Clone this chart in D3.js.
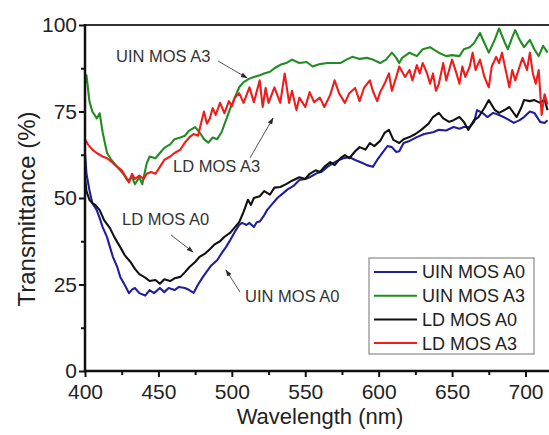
<!DOCTYPE html>
<html>
<head>
<meta charset="utf-8">
<script src="https://cdn.jsdelivr.net/npm/d3@7"></script>
<style>
  html, body { margin: 0; padding: 0; background: #fff; }
  svg { display: block; }
  text { font-family: "Liberation Sans", Arial, Helvetica, sans-serif; }
</style>
</head>
<body>
<svg id="chart" width="549" height="435"></svg>
<script>
// ---------------- DATA ----------------
const xTicks = [400, 450, 500, 550, 600, 650, 700];
const xMinorTicks = [425, 475, 525, 575, 625, 675, 725];
const yTicks = [0, 25, 50, 75, 100];
const yMinorTicks = [12.5, 37.5, 62.5, 87.5];

const seriesNames = ["UIN MOS A0", "UIN MOS A3", "LD MOS A0", "LD MOS A3"];
const seriesColors = ["#1f1f9e", "#218c21", "#111111", "#f01c1c"];

// [wavelength (nm), transmittance (%)]
const uinA0 = [[400,63],[401,57],[403,52.3],[405,48.5],[408,46.5],[410,44.2],[412,41.6],[415,38.7],[417,35.8],[419,33],[422,30],[424,27.2],[427,24.9],[430,22.5],[432,23.5],[434,24],[437,22.5],[441,21.8],[444,23.4],[447,22.5],[451,24],[454,22.8],[457,24],[461,23.4],[464,24.3],[468,24],[471,23.4],[474,22.6],[477,25],[480,27],[483,28.8],[486,30.5],[490,32],[493,34],[496,35.8],[499,37.9],[502,40.2],[505,42.2],[507,42.8],[510,42.2],[512,42.8],[515,41.6],[517,43],[519,43.2],[522,45],[524,46.5],[528,48.5],[531,50],[535,51.4],[538,52.5],[542,53.5],[546,55.2],[550,55.5],[553,56],[558,57.2],[561,57.5],[565,59],[569,60.1],[572,60.8],[576,61.5],[580,61.8],[584,61],[589,60.1],[592,59.5],[596,59],[599,61],[603,63.3],[606,65],[609,64.7],[612,63.3],[614,63.5],[617,65.9],[621,66.5],[626,67.6],[631,68.5],[637,69],[641,69.7],[646,69.5],[651,70.5],[655,70],[658,70.5],[662,70.5],[665,72],[667,75.4],[671,74.5],[674,73.4],[678,74.6],[682,74],[685,73.4],[689,72.5],[692,71.7],[696,72.5],[699,73.4],[703,75],[706,74.6],[710,72],[713,71.7],[715,72.5]];

const uinA3 = [[400,83],[401,85.5],[403,78],[405,75],[408,73],[410,74.5],[412,69],[415,63],[418,61],[422,59],[426,57],[429,55],[432,56],[434,54],[437,56],[439,54],[442,60],[444,62],[448,61.5],[451,63],[454,64.5],[458,65.5],[461,67],[465,67.5],[468,68],[471,69.5],[475,70.5],[478,69],[481,67],[484,66],[487,67.5],[490,67],[493,69],[496,72.5],[499,76],[502,79],[505,82],[508,83.5],[512,84.5],[515,85],[519,85.5],[522,86],[526,86.5],[529,87.5],[533,88.5],[537,89],[541,90],[546,89],[551,89.3],[555,88],[560,88.7],[565,89],[569,89],[574,89],[578,90],[582,90.8],[587,90.2],[592,90.5],[596,90],[601,89],[605,90],[609,92],[612,90.5],[614,89],[616,90.5],[621,92],[626,91],[630,93],[635,93.6],[637,93],[641,92],[646,91],[650,91.3],[655,91],[658,93],[662,93.6],[665,94.8],[669,97.7],[672,94.8],[675,92],[679,95.7],[682,99],[686,94.8],[688,93],[691,96.5],[693,98.5],[696,95.7],[699,93.6],[703,95.7],[706,93],[709,91],[712,94],[715,92]];

const ldA0 = [[400,56],[401,52],[403,49.5],[405,48.5],[407,48],[410,46.5],[413,43.6],[417,41.3],[420,38.7],[424,35.8],[427,33.5],[431,31.5],[434,29.5],[437,28],[441,27],[444,26],[448,26.3],[451,25.2],[454,26.5],[458,26],[461,26.8],[465,27.2],[468,28.5],[471,30],[475,31.5],[478,33],[482,34],[485,35.2],[488,36.5],[492,37.5],[495,38.8],[499,40],[502,41.5],[505,43],[508,46],[511,49.5],[513,48],[515,50],[519,50.5],[522,52],[526,51],[529,53],[533,53.2],[537,54],[541,55],[546,56],[550,55.5],[553,57],[557,58],[560,57.5],[563,59],[567,60.4],[570,59.5],[574,61.5],[577,62.4],[580,61.5],[584,63.5],[587,64.7],[591,64],[594,65.9],[597,65],[601,66.5],[604,68.8],[607,69.7],[610,66.8],[614,65.9],[617,67],[621,67.6],[625,68.5],[629,69.7],[634,71.5],[637,73.4],[641,74.6],[644,73],[648,72],[651,72.5],[655,73.4],[658,72],[661,69.7],[665,72.5],[668,73.4],[672,76],[675,78.3],[679,75.5],[682,74.6],[686,75.5],[689,76.3],[692,74.5],[694,73.4],[697,76],[699,78.3],[703,78],[706,78.3],[710,77.5],[713,78.5],[715,75.4]];

const ldA3 = [[400,67],[402,65.5],[405,64],[408,63],[412,62],[415,61.5],[418,60.5],[422,59],[425,58],[428,56],[430,54.5],[432,57],[434,55.5],[437,56.5],[440,55.5],[442,57],[445,57.5],[448,57],[451,59],[454,61],[458,62],[461,63],[465,64],[468,66],[471,67.5],[474,68.5],[477,68],[479,71.5],[481,75],[483,71.5],[485,73],[487,76],[489,74],[492,77.5],[495,74.5],[498,78],[500,76.5],[502,79],[505,80.3],[508,77.5],[512,82],[515,77.7],[519,84],[521,76.3],[523,81.8],[525,77.5],[529,82],[533,77.5],[536,86],[539,77.5],[541,81],[544,75.4],[546,79],[550,76.3],[553,80.6],[556,77.7],[560,79],[563,76.3],[567,79.8],[570,84],[573,80.3],[577,77.5],[580,80.3],[584,81.8],[587,78],[590,81.8],[594,84],[596,81],[599,78],[601,80.6],[604,83],[607,86],[609,81],[612,85],[614,88],[618,85],[621,87],[623,84],[626,88.4],[628,86],[630,89],[633,86],[635,83],[637,86],[639,81],[641,83],[644,89],[646,84],[648,87],[650,90],[653,86],[655,83],[657,88],[659,85],[662,88],[664,92],[666,87],[669,90],[672,85],[675,82],[677,88],[680,90.8],[682,89],[684,92],[687,86],[689,82],[691,87],[693,84],[696,88],[698,90.5],[701,87],[703,92],[705,86],[707,83],[709,87],[711,74],[713,80],[715,77]];

const seriesData = [uinA0, uinA3, ldA0, ldA3];

// annotations: label, text anchor [nm, %], arrow from [nm, %], arrow to [nm, %]
const annLabels = ["UIN MOS A3", "LD MOS A3", "LD MOS A0", "UIN MOS A0"];
const annText = [[421.1, 89.3], [460.0, 57.5], [425.2, 42.2], [509.0, 19.9]];
const annFrom = [[490.6, 89.6], [512.4, 61.6], [458.6, 39.3], [505.6, 22.8]];
const annTo   = [[510.4, 84.7], [528.1, 73.1], [473.6, 34.4], [496.0, 29.2]];

// ---------------- CHART ----------------
const svg = d3.select("#chart");
const padL = 85, padT = 25, padB = 371;
const x = d3.scaleLinear().domain([400, 700]).range([padL, 525.5]);
const y = d3.scaleLinear().domain([0, 100]).range([padB, padT]);
const rightEdge = x(725);

const defs = svg.append("defs");
defs.append("clipPath").attr("id", "plotclip")
  .append("rect").attr("x", padL).attr("y", padT - 2)
  .attr("width", rightEdge - padL).attr("height", padB - padT + 2);
defs.append("marker").attr("id", "arrow")
  .attr("viewBox", "0 0 10 10").attr("refX", 9).attr("refY", 5)
  .attr("markerWidth", 7).attr("markerHeight", 7).attr("orient", "auto")
  .attr("markerUnits", "userSpaceOnUse")
  .append("path").attr("d", "M0,1.5 L10,5 L0,8.5 Z").attr("fill", "#2a2a2a");

// series lines
const line = d3.line().x(d => x(d[0])).y(d => y(d[1])).curve(d3.curveLinear);
const gLines = svg.append("g").attr("clip-path", "url(#plotclip)");
seriesData.forEach((data, i) => {
  gLines.append("path").datum(data)
    .attr("d", line)
    .attr("fill", "none")
    .attr("stroke", seriesColors[i])
    .attr("stroke-width", 2.1)
    .attr("stroke-linejoin", "round");
});

// top frame line
svg.append("line").attr("x1", padL).attr("x2", rightEdge)
  .attr("y1", y(100)).attr("y2", y(100))
  .attr("stroke", "#333").attr("stroke-width", 2);

// x axis
const xAxis = svg.append("g").attr("transform", `translate(0,${padB})`)
  .call(d3.axisBottom(x).tickValues(xTicks).tickSize(6).tickPadding(7).tickFormat(d3.format("d")));
const xMinor = svg.append("g").attr("transform", `translate(0,${padB})`)
  .call(d3.axisBottom(x).tickValues(xMinorTicks).tickSize(4).tickFormat(""));
// y axis
const yAxis = svg.append("g").attr("transform", `translate(${padL},0)`)
  .call(d3.axisLeft(y).tickValues(yTicks).tickSize(6).tickPadding(2).tickFormat(d3.format("d")));
const yMinor = svg.append("g").attr("transform", `translate(${padL},0)`)
  .call(d3.axisLeft(y).tickValues(yMinorTicks).tickSize(4).tickFormat(""));

[xAxis, xMinor, yAxis, yMinor].forEach(g => {
  g.select(".domain").remove();
  g.selectAll(".tick line").attr("stroke", "#111").attr("stroke-width", 2);
  g.selectAll(".tick text").attr("font-size", 21).attr("fill", "#222")
    .style("font-family", '"Liberation Sans", Arial, sans-serif');
});
// axis lines
svg.append("line").attr("x1", padL).attr("x2", rightEdge)
  .attr("y1", padB).attr("y2", padB)
  .attr("stroke", "#111").attr("stroke-width", 2.5);
svg.append("line").attr("x1", padL).attr("x2", padL)
  .attr("y1", padT - 1).attr("y2", padB + 1.2)
  .attr("stroke", "#111").attr("stroke-width", 2.5);

// axis titles
svg.append("text").attr("x", 320).attr("y", 424)
  .attr("text-anchor", "middle").attr("font-size", 22).attr("fill", "#222")
  .text("Wavelength (nm)");
svg.append("text").attr("transform", `translate(35,${(padT + padB) / 2 + 11}) rotate(-90)`)
  .attr("text-anchor", "middle").attr("font-size", 24).attr("fill", "#222")
  .text("Transmittance (%)");

// annotations
annLabels.forEach((lab, i) => {
  svg.append("text").attr("x", x(annText[i][0])).attr("y", y(annText[i][1]))
    .attr("font-size", 16.5).attr("fill", "#333").text(lab);
  svg.append("line")
    .attr("x1", x(annFrom[i][0])).attr("y1", y(annFrom[i][1]))
    .attr("x2", x(annTo[i][0])).attr("y2", y(annTo[i][1]))
    .attr("stroke", "#555").attr("stroke-width", 1)
    .attr("marker-end", "url(#arrow)");
});

// legend
const lg = svg.append("g").attr("transform", "translate(369,258)");
lg.append("rect").attr("x", 0).attr("y", 0).attr("width", 165).attr("height", 96)
  .attr("fill", "#fff").attr("stroke", "#8a8a8a").attr("stroke-width", 1.2);
seriesNames.forEach((name, i) => {
  const yy = 14 + i * 23.7;
  lg.append("line").attr("x1", 5).attr("x2", 48).attr("y1", yy).attr("y2", yy)
    .attr("stroke", seriesColors[i]).attr("stroke-width", 2);
  lg.append("text").attr("x", 53).attr("y", yy).attr("dy", "0.36em")
    .attr("font-size", 18).attr("fill", "#222").text(name);
});
</script>
</body>
</html>
